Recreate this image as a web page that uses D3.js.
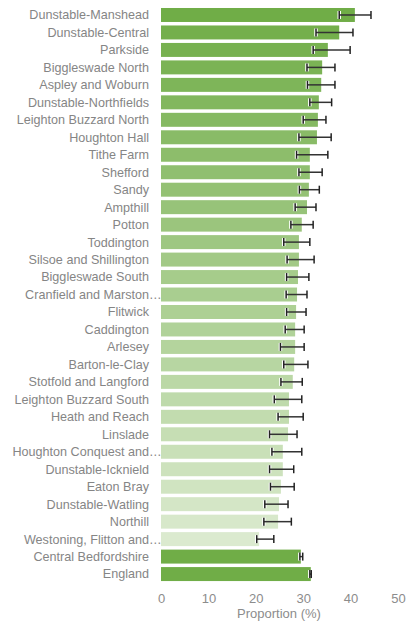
<!DOCTYPE html>
<html>
<head>
<meta charset="utf-8">
<script src="https://cdn.jsdelivr.net/npm/d3@7"></script>
<style>
  body { margin: 0; background: #fff; }
  text { font-family: 'Liberation Sans', Arial, sans-serif; }
</style>
</head>
<body>
<svg id="chart"></svg>
<script>
const width = 408
const height = 622

// wards (plus the two comparators at the bottom)
const names = [
  'Dunstable-Manshead', 'Dunstable-Central', 'Parkside', 'Biggleswade North',
  'Aspley and Woburn', 'Dunstable-Northfields', 'Leighton Buzzard North',
  'Houghton Hall', 'Tithe Farm', 'Shefford', 'Sandy', 'Ampthill', 'Potton',
  'Toddington', 'Silsoe and Shillington', 'Biggleswade South',
  'Cranfield and Marston', 'Flitwick', 'Caddington', 'Arlesey',
  'Barton-le-Clay', 'Stotfold and Langford', 'Leighton Buzzard South',
  'Heath and Reach', 'Linslade', 'Houghton Conquest and', 'Dunstable-Icknield',
  'Eaton Bray', 'Dunstable-Watling', 'Northill', 'Westoning, Flitton and',
  'Central Bedfordshire', 'England'
]
const truncated = ['Cranfield and Marston', 'Houghton Conquest and', 'Westoning, Flitton and']
const comparators = ['Central Bedfordshire', 'England']

const values = [
  40.9, 37.6, 35.2, 34.0, 33.8, 33.3, 33.1, 32.9, 31.4, 31.4, 31.2, 30.8, 29.7,
  29.1, 29.1, 28.9, 28.7, 28.5, 28.3, 28.3, 28.1, 27.8, 27.0, 27.0, 26.8, 25.7,
  25.7, 25.3, 24.9, 24.7, 20.7, 29.5, 31.6
]
const lower = [
  37.6, 32.7, 32.1, 30.8, 30.9, 31.4, 30.0, 29.1, 28.6, 29.1, 29.2, 28.3, 27.4,
  25.9, 26.6, 26.5, 26.4, 26.5, 26.2, 25.2, 25.9, 25.3, 23.9, 24.7, 22.9, 23.4,
  22.9, 23.1, 21.9, 21.7, 20.2, 29.3, 31.4
]
const upper = [
  44.3, 40.5, 39.9, 36.7, 36.7, 36.0, 34.8, 35.9, 35.2, 34.0, 33.4, 32.7, 32.1,
  31.4, 32.3, 31.2, 30.8, 30.6, 30.2, 30.2, 31.0, 29.8, 29.7, 30.0, 28.7, 29.7,
  28.0, 28.1, 26.8, 27.5, 23.8, 29.9, 31.7
]
const xTicks = [0, 10, 20, 30, 40, 50]

const data = names.map((name, i) => ({
  name, value: values[i], lo: lower[i], hi: upper[i], i
}))

const svg = d3.select('#chart')
  .attr('width', width)
  .attr('height', height)

/// scales ////////////////////////////////
const xScale = d3.scaleLinear().domain([0, 50]).range([161, 398])
const yScale = d3.scaleBand()
  .domain(names)
  .range([6.25, 582.8])
  .paddingInner(0.2)
  .paddingOuter(0.1)

const nWards = names.length - comparators.length
const shade = d3.interpolateRgb('#70ad47', '#dbeacf')
function barColor(d) {
  if (comparators.includes(d.name)) return '#70ad47'
  return shade(d.i / (nWards - 1))
}

/// bars ////////////////////////////////
svg.append('g')
  .selectAll('rect')
  .data(data)
  .enter()
  .append('rect')
  .attr('x', xScale(0))
  .attr('y', d => yScale(d.name))
  .attr('width', d => xScale(d.value) - xScale(0))
  .attr('height', yScale.bandwidth())
  .attr('fill', barColor)

/// error bars ////////////////////////////////
const errs = svg.append('g')
  .selectAll('g')
  .data(data)
  .enter()
  .append('g')
  .attr('transform', d => 'translate(0,' + (yScale(d.name) + yScale.bandwidth() / 2) + ')')

const capH = 4
errs.append('line')
  .attr('x1', d => xScale(d.lo))
  .attr('x2', d => xScale(d.lo))
  .attr('y1', -capH)
  .attr('y2', capH)
  .attr('stroke', '#fff')
  .attr('stroke-width', 3.5)
errs.append('line')
  .attr('x1', d => xScale(d.lo))
  .attr('x2', d => xScale(d.hi))
  .attr('stroke', '#333')
  .attr('stroke-width', 1.5)
errs.append('line')
  .attr('x1', d => xScale(d.lo))
  .attr('x2', d => xScale(d.lo))
  .attr('y1', -capH)
  .attr('y2', capH)
  .attr('stroke', '#222')
  .attr('stroke-width', 1.5)
errs.append('line')
  .attr('x1', d => xScale(d.hi))
  .attr('x2', d => xScale(d.hi))
  .attr('y1', -capH)
  .attr('y2', capH)
  .attr('stroke', '#222')
  .attr('stroke-width', 1.5)

/// category labels ////////////////////////////////
const labels = svg.append('g')
  .selectAll('g')
  .data(data)
  .enter()
  .append('g')
  .attr('transform', d => 'translate(0,' + (yScale(d.name) + yScale.bandwidth() / 2) + ')')

labels.append('text')
  .attr('x', 149)
  .attr('dy', '0.35em')
  .attr('text-anchor', 'end')
  .attr('font-size', 12.6)
  .attr('fill', '#858585')
  .text(d => d.name)

labels.filter(d => truncated.includes(d.name))
  .append('text')
  .attr('x', 149)
  .attr('dy', '0.35em')
  .attr('font-size', 12.6)
  .attr('fill', '#858585')
  .text('…')

/// x axis ////////////////////////////////
const xAxis = svg.append('g')
  .attr('transform', 'translate(0,' + 594 + ')')
  .call(d3.axisBottom(xScale).tickValues(xTicks).tickSize(0).tickPadding(0))
xAxis.select('.domain').remove()
xAxis.selectAll('text')
  .attr('font-family', "'Liberation Sans', Arial, sans-serif")
  .attr('font-size', 13)
  .attr('fill', '#8c8c8c')
  .attr('dy', '0.71em')

svg.append('text')
  .attr('x', xScale(25) - 0.5)
  .attr('y', 618)
  .attr('text-anchor', 'middle')
  .attr('font-size', 13)
  .attr('fill', '#8c8c8c')
  .text('Proportion (%)')
</script>
</body>
</html>
